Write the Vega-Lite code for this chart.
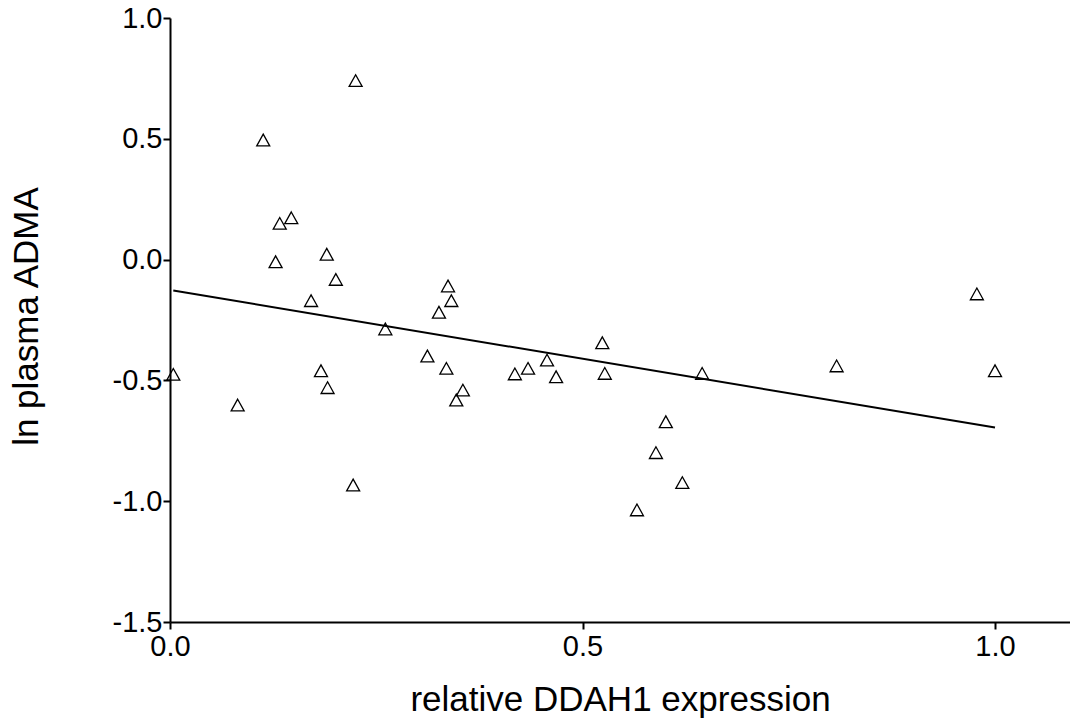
{
  "$schema": "https://vega.github.io/schema/vega-lite/v6.json",
  "width": 900,
  "height": 604,
  "autosize": {"type": "none"},
  "padding": {"left": 170, "top": 18, "right": 0, "bottom": 100},
  "background": "white",
  "config": {
    "view": {"stroke": null},
    "font": "Liberation Sans",
    "axis": {
      "grid": false,
      "domainColor": "black",
      "domainWidth": 2,
      "tickColor": "black",
      "tickWidth": 2,
      "tickSize": 7,
      "labelColor": "black",
      "labelFont": "Liberation Sans",
      "labelFontSize": 29,
      "titleFont": "Liberation Sans",
      "titleFontSize": 35,
      "titleFontWeight": "normal",
      "titleColor": "black"
    }
  },
  "datasets": {
    "pts": [
      {"x": 0.004, "y": -0.475},
      {"x": 0.082, "y": -0.602},
      {"x": 0.113, "y": 0.495},
      {"x": 0.225, "y": 0.741},
      {"x": 0.133, "y": 0.150},
      {"x": 0.147, "y": 0.173},
      {"x": 0.128, "y": -0.009},
      {"x": 0.190, "y": 0.022},
      {"x": 0.201, "y": -0.082},
      {"x": 0.171, "y": -0.170},
      {"x": 0.183, "y": -0.460},
      {"x": 0.191, "y": -0.530},
      {"x": 0.222, "y": -0.933},
      {"x": 0.261, "y": -0.287},
      {"x": 0.312, "y": -0.399},
      {"x": 0.326, "y": -0.218},
      {"x": 0.337, "y": -0.109},
      {"x": 0.341, "y": -0.170},
      {"x": 0.335, "y": -0.450},
      {"x": 0.347, "y": -0.581},
      {"x": 0.355, "y": -0.540},
      {"x": 0.418, "y": -0.473},
      {"x": 0.434, "y": -0.450},
      {"x": 0.457, "y": -0.416},
      {"x": 0.468, "y": -0.485},
      {"x": 0.524, "y": -0.344},
      {"x": 0.527, "y": -0.471},
      {"x": 0.601, "y": -0.671},
      {"x": 0.589, "y": -0.799},
      {"x": 0.621, "y": -0.923},
      {"x": 0.566, "y": -1.036},
      {"x": 0.645, "y": -0.471},
      {"x": 0.808, "y": -0.440},
      {"x": 0.978, "y": -0.142},
      {"x": 1.0, "y": -0.460}
    ],
    "fit": [
      {"x": 0.004, "y": -0.128},
      {"x": 1.0, "y": -0.695}
    ]
  },
  "layer": [
    {
      "data": {"name": "fit"},
      "mark": {"type": "line", "color": "black", "strokeWidth": 2},
      "encoding": {
        "x": {
          "field": "x", "type": "quantitative",
          "scale": {"domain": [0, 1.0909], "nice": false, "zero": false},
          "axis": {
            "values": [0, 0.5, 1.0],
            "labelExpr": "format(datum.value, '.1f')",
            "title": "relative DDAH1 expression",
            "labelPadding": 3,
            "labelFlush": false,
            "titleBaseline": "alphabetic",
            "titleY": 88,
            "titleX": 450,
            "titleAlign": "center",
            "titleAnchor": null
          }
        },
        "y": {
          "field": "y", "type": "quantitative",
          "scale": {"domain": [-1.5, 1.0], "nice": false, "zero": false},
          "axis": {
            "values": [-1.5, -1.0, -0.5, 0.0, 0.5, 1.0],
            "labelExpr": "(datum.value < 0 ? '-' : '') + format(abs(datum.value), '.1f')",
            "title": "ln plasma ADMA",
            "labelPadding": 1,
            "labelFlush": false,
            "titleBaseline": "alphabetic",
            "titleAngle": -90,
            "titleX": -133,
            "titleY": 298,
            "titleAlign": "center",
            "titleAnchor": null
          }
        }
      }
    },
    {
      "data": {"name": "pts"},
      "mark": {
        "type": "point",
        "shape": "M0,-0.9L1,0.9L-1,0.9Z",
        "filled": false,
        "stroke": "black",
        "strokeWidth": 1.3,
        "size": 169,
        "opacity": 1
      },
      "encoding": {
        "x": {"field": "x", "type": "quantitative"},
        "y": {"field": "y", "type": "quantitative"}
      }
    }
  ]
}
